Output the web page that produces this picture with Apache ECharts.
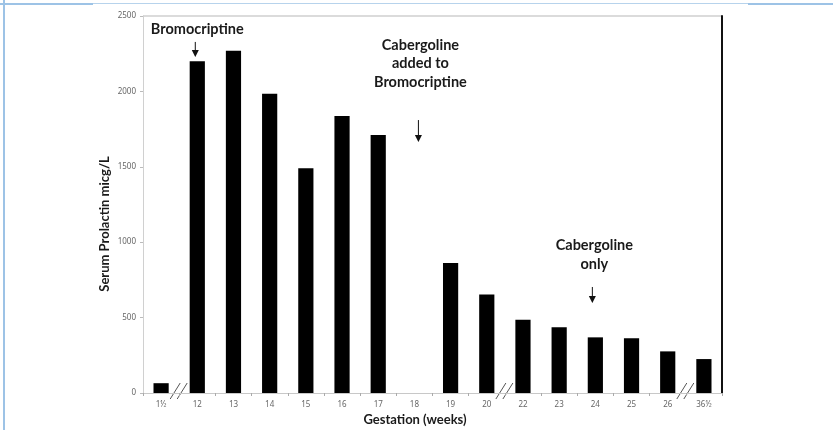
<!DOCTYPE html>
<html><head><meta charset="utf-8">
<script src="https://cdn.jsdelivr.net/npm/echarts@6/dist/echarts.min.js"></script>
<style>html,body{margin:0;padding:0;background:#fff}#c{width:833px;height:430px}</style>
</head><body><div id="c"></div>
<script>
// ---- data ----
const categories = ['1½','12','13','14','15','16','17','18','19','20','22','23','24','25','26','36½'];
const prolactin = [65,2200,2270,1985,1490,1837,1711,null,862,654,486,436,369,363,276,225];
const yTicks = [0,500,1000,1500,2000,2500];
const breaksAfter = ['1½','20','26'];
const xTitle = 'Gestation (weeks)';
const yTitle = 'Serum Prolactin micg/L';
const notes = [
  {cat:'12', lines:['Bromocriptine'], textY:2414, arrowFrom:2328, arrowTo:2228},
  {cat:'18', lines:['Cabergoline','added to','Bromocriptine'], textY:2185, arrowFrom:1810, arrowTo:1664, dx:6},
  {cat:'24', lines:['Cabergoline','only'], textY:915, arrowFrom:703, arrowTo:597, dx:-1}
];

const chart = echarts.init(document.getElementById('c'), null, {renderer:'canvas'});
const grid = {left:143, right:111, top:16, bottom:37};
const lblFont = {fontFamily:'Noto Sans', fontSize:8, color:'#666'};
chart.setOption({
  animation:false,
  backgroundColor:'#fff',
  grid: grid,
  xAxis: [{
    type:'category', data:categories,
    axisLine:{lineStyle:{color:'#c8c8c8', width:1}},
    axisTick:{show:true, length:3, lineStyle:{color:'#aaa'}},
    axisLabel:Object.assign({margin:8}, lblFont)
  }],
  yAxis: [{
    type:'value', min:yTicks[0], max:yTicks[yTicks.length-1], interval:yTicks[1]-yTicks[0],
    axisLine:{show:true, lineStyle:{color:'#d0d0d0'}},
    axisTick:{show:true, length:3, lineStyle:{color:'#bbb'}},
    splitLine:{show:false},
    axisLabel:Object.assign({margin:7, formatter: v => String(v)}, lblFont)
  },{
    type:'value', position:'right', min:yTicks[0], max:yTicks[yTicks.length-1],
    axisLine:{show:true, lineStyle:{color:'#111', width:2}},
    axisTick:{show:false}, axisLabel:{show:false}, splitLine:{show:false}
  }],
  series:[{
    type:'bar', data:prolactin, barWidth:'42%',
    itemStyle:{color:'#000'}, silent:true
  }]
});

function drawExtras(){
  const g = [];
  const px = (cat, v) => chart.convertToPixel({xAxisIndex:0, yAxisIndex:0}, [cat, v]);
  const band = px(categories[1],0)[0] - px(categories[0],0)[0];
  // frame lines
  g.push({type:'rect', shape:{x:3,y:0,width:2,height:430}, style:{fill:'#9dc3e6'}});
  g.push({type:'rect', shape:{x:0,y:3,width:93,height:2}, style:{fill:'#9dc3e6'}});
  g.push({type:'rect', shape:{x:93,y:3,width:655,height:1}, style:{fill:'#b7d3ec'}});
  g.push({type:'rect', shape:{x:748,y:3,width:85,height:2}, style:{fill:'#9dc3e6'}});
  // top border of plot
  const tl = px(categories[0], yTicks[yTicks.length-1]);
  const trX = tl[0] - band/2 + band*categories.length;
  g.push({type:'line', shape:{x1:tl[0]-band/2, y1:tl[1], x2:trX, y2:tl[1]}, style:{stroke:'#cfcfcf', lineWidth:1.5}});
  // axis break marks
  breaksAfter.forEach(c => {
    const p = px(c, 0);
    const bx = p[0] + band/2, by = p[1];
    [-4, 3].forEach(o => {
      g.push({type:'line', shape:{x1:bx+o-5, y1:by+6, x2:bx+o+5, y2:by-10},
        style:{stroke:'#555', lineWidth:1}});
    });
  });
  // annotations
  notes.forEach(n => {
    const t = px(n.cat, n.textY);
    const a1 = px(n.cat, n.arrowFrom), a2 = px(n.cat, n.arrowTo);
    const x = t[0] + (n.dx||0);
    g.push({type:'text', x:x, y:t[1], style:{text:n.lines.join('\n'), align:'center', verticalAlign:'middle',
      fontFamily:'Lato', fontWeight:'bold', fontSize:14.5, lineHeight:18.5, fill:'#1a1a1a'}});
    const ax = a1[0] + (n.dx||0) - 2;
    g.push({type:'line', shape:{x1:ax, y1:a1[1], x2:ax, y2:a2[1]-5}, style:{stroke:'#111', lineWidth:1}});
    g.push({type:'polygon', shape:{points:[[ax-3.5,a2[1]-7],[ax+3.5,a2[1]-7],[ax,a2[1]]]}, style:{fill:'#111'}});
  });
  // axis titles
  const bottomY = px(categories[0],0)[1];
  g.push({type:'text', x:415, y:bottomY+27, style:{text:xTitle, align:'center', verticalAlign:'middle',
    fontFamily:'Lato', fontWeight:'bold', fontSize:13, fill:'#1a1a1a'}});
  g.push({type:'text', x:105, y:224, rotation:Math.PI/2, style:{text:yTitle, align:'center', verticalAlign:'middle',
    fontFamily:'Lato', fontWeight:'bold', fontSize:13, fill:'#1a1a1a'}});
  chart.setOption({graphic:g});
}
drawExtras();
</script></body></html>
